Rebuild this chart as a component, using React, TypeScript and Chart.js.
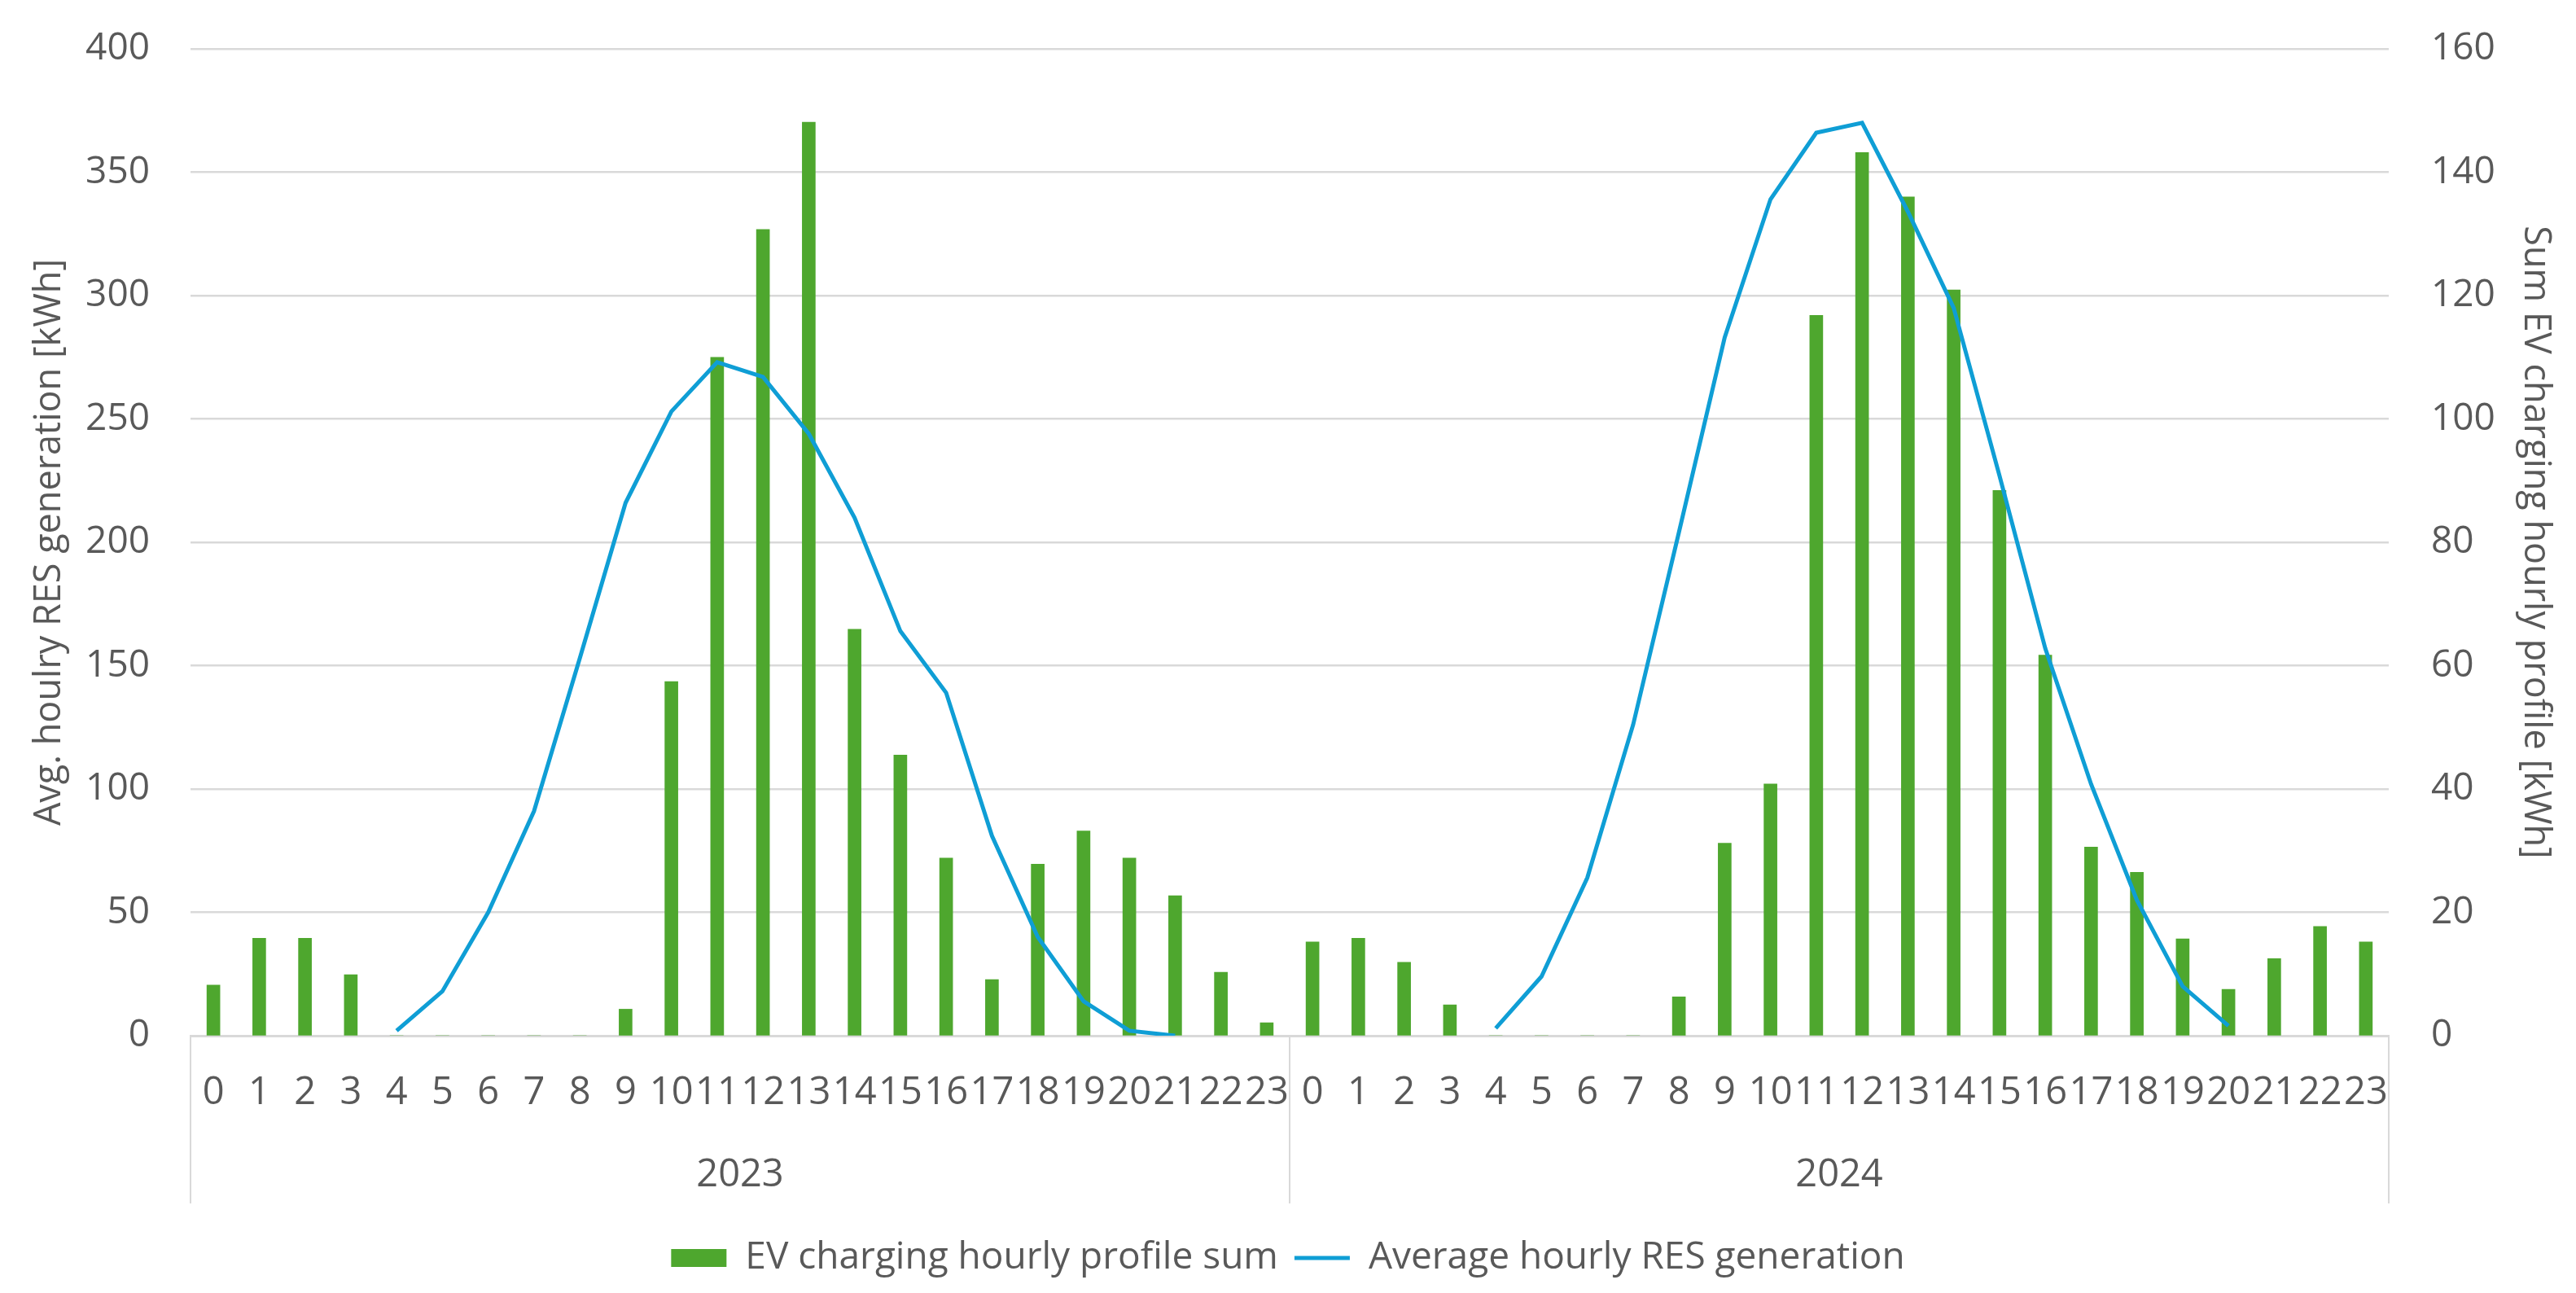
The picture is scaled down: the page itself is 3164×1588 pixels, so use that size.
import React, { useEffect, useRef } from 'react';
import { Chart, registerables } from 'chart.js';

Chart.register(...registerables);

const hours = ['0', '1', '2', '3', '4', '5', '6', '7', '8', '9', '10', '11', '12', '13', '14', '15', '16', '17', '18', '19', '20', '21', '22', '23'];
const years = ['2023', '2024'];

// Sum EV charging hourly profile [kWh] (right axis)
const evCharging2023 = [8.2, 15.8, 15.8, 9.9, 0, 0, 0, 0, 0, 4.3, 57.4, 110, 130.7, 148.1, 65.9, 45.5, 28.8, 9.1, 27.8, 33.2, 28.8, 22.7, 10.3, 2.1];
const evCharging2024 = [15.2, 15.8, 11.9, 5.0, 0, 0, 0, 0, 6.3, 31.2, 40.8, 116.8, 143.2, 136, 120.9, 88.4, 61.7, 30.6, 26.5, 15.7, 7.5, 12.5, 17.7, 15.2];

// Average hourly RES generation [kWh] (left axis)
const resGeneration2023 = [null, null, null, null, 2, 18, 50, 91, 153, 216, 253, 273, 267, 244, 210, 164, 139, 81, 40, 14, 2, 0, null, null];
const resGeneration2024 = [null, null, null, null, 3, 24, 64, 126, 204, 283, 339, 366, 370, 334, 295, 227, 157, 102, 55, 20, 4, null, null, null];

const leftAxis = { min: 0, max: 400, step: 50 };
const rightAxis = { min: 0, max: 160, step: 20 };

const TEXT = '#595959';
const GRID = '#d9d9d9';
const GREEN = '#4EA72E';
const BLUE = '#0F9ED5';

const groupSeparators = {
  id: 'groupSeparators',
  afterDraw(chart: any) {
    const x = chart.scales.x;
    const x2 = chart.scales.x2;
    const { ctx, chartArea } = chart;
    const mid = (x.getPixelForValue(hours.length - 1) + x.getPixelForValue(hours.length)) / 2;
    const y0 = chartArea.bottom;
    const y1 = x2.bottom - 24;
    ctx.save();
    ctx.strokeStyle = GRID;
    ctx.lineWidth = 2;
    [chartArea.left, mid, chartArea.right].forEach((px: number) => {
      ctx.beginPath();
      ctx.moveTo(px, y0);
      ctx.lineTo(px, y1);
      ctx.stroke();
    });
    ctx.restore();
  },
};

export default function App() {
  const ref = useRef<HTMLCanvasElement | null>(null);

  useEffect(() => {
    if (!ref.current) return;
    Chart.defaults.font.family = "'Open Sans', sans-serif";
    Chart.defaults.color = TEXT;
    const labels = [...hours, ...hours];
    const chart = new Chart(ref.current, {
      type: 'bar',
      data: {
        labels,
        datasets: [
          {
            type: 'bar',
            label: 'EV charging hourly profile sum',
            data: [...evCharging2023, ...evCharging2024],
            backgroundColor: GREEN,
            borderWidth: 0,
            barThickness: 16,
            yAxisID: 'y1',
            order: 2,
            pointStyle: 'rect',
          } as any,
          {
            type: 'line',
            label: 'Average hourly RES generation',
            data: [...resGeneration2023, ...resGeneration2024],
            borderColor: BLUE,
            backgroundColor: BLUE,
            borderWidth: 5,
            pointRadius: 0,
            tension: 0,
            spanGaps: false,
            yAxisID: 'y',
            order: 1,
            pointStyle: 'line',
          } as any,
        ],
      },
      options: {
        animation: false,
        responsive: false,
        devicePixelRatio: 1,
        layout: { padding: { top: 60, left: 0, right: 0, bottom: 10 } },
        plugins: {
          tooltip: { enabled: false },
          legend: {
            position: 'bottom',
            labels: {
              usePointStyle: true,
              pointStyleWidth: 68,
              boxHeight: 22,
              padding: 20,
              color: TEXT,
              font: { size: 46 },
              sort: (a: any, b: any) => a.datasetIndex - b.datasetIndex,
            },
          },
        },
        scales: {
          x: {
            type: 'category',
            position: 'bottom',
            offset: true,
            grid: { display: false, drawTicks: false },
            border: { display: true, color: GRID, width: 3 },
            ticks: { autoSkip: false, maxRotation: 0, minRotation: 0, padding: 42, font: { size: 47 }, color: TEXT },
            afterFit: (s: any) => { s.height = 120; },
          },
          x2: {
            type: 'category',
            position: 'bottom',
            labels: years,
            offset: true,
            grid: { display: false, drawTicks: false },
            border: { display: false },
            ticks: { autoSkip: false, maxRotation: 0, padding: 23, font: { size: 47 }, color: TEXT },
            afterFit: (s: any) => { s.height = 110; },
          },
          y: {
            type: 'linear',
            position: 'left',
            min: leftAxis.min,
            max: leftAxis.max,
            ticks: { stepSize: leftAxis.step, padding: 0, font: { size: 46 }, color: TEXT },
            grid: { color: GRID, lineWidth: 2.5, drawTicks: true, tickLength: 50, tickColor: 'rgba(0,0,0,0)' },
            border: { display: false },
            title: {
              display: true,
              text: 'Avg. houlry RES generation [kWh]',
              color: TEXT,
              font: { size: 45 },
              padding: { top: 34, bottom: 0 },
            },
            afterFit: (s: any) => { s.width = 234; },
          },
          y1: {
            type: 'linear',
            position: 'right',
            min: rightAxis.min,
            max: rightAxis.max,
            ticks: { stepSize: rightAxis.step, padding: 0, font: { size: 46 }, color: TEXT },
            grid: { drawOnChartArea: false, drawTicks: true, tickLength: 52, tickColor: 'rgba(0,0,0,0)' },
            border: { display: false },
            title: {
              display: true,
              text: 'Sum EV charging hourly profile [kWh]',
              color: TEXT,
              font: { size: 45 },
              padding: { top: 23, bottom: 0 },
            },
            afterFit: (s: any) => { s.width = 230; },
          },
        },
      },
      plugins: [groupSeparators],
    } as any);
    return () => chart.destroy();
  }, []);

  return (
    <div style={{ position: 'absolute', left: 0, top: 0, width: 3164, height: 1588, background: '#ffffff' }}>
      <canvas ref={ref} width={3164} height={1588} style={{ width: 3164, height: 1588, display: 'block' }} />
    </div>
  );
}
